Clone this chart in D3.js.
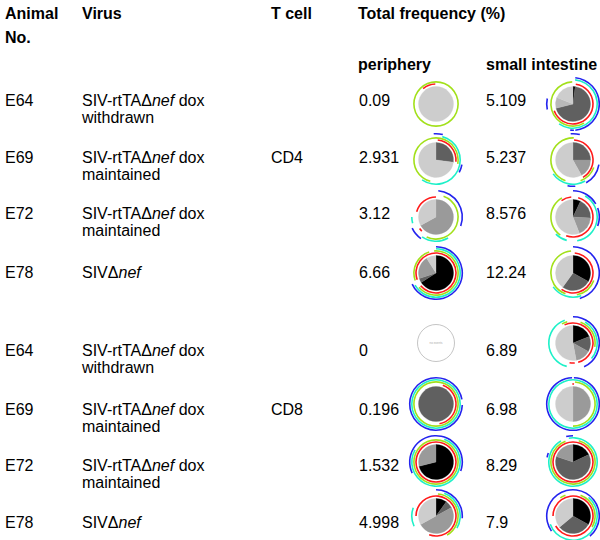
<!DOCTYPE html>
<html><head><meta charset="utf-8">
<script src="https://cdn.jsdelivr.net/npm/d3@7"></script>
<style>
body{margin:0;background:#fff}
svg{display:block}
text{font-family:"Liberation Sans",Arial,Helvetica,sans-serif;fill:#000}
</style>
</head><body><svg id="c" width="600" height="540"></svg>
<script>
// ---------- data ----------
const headers = ["Animal", "No.", "Virus", "T cell", "Total frequency (%)", "periphery", "small intestine"];
const animals = ["E64", "E69", "E72", "E78", "E64", "E69", "E72", "E78"];
const virusLine1 = ["SIV-rtTAΔ_nef_ dox", "SIV-rtTAΔ_nef_ dox", "SIV-rtTAΔ_nef_ dox", "SIVΔ_nef_",
                    "SIV-rtTAΔ_nef_ dox", "SIV-rtTAΔ_nef_ dox", "SIV-rtTAΔ_nef_ dox", "SIVΔ_nef_"];
const virusLine2 = ["withdrawn", "maintained", "maintained", "", "withdrawn", "maintained", "maintained", ""];
const tCells = ["CD4", "CD8"];
const peripheryFreq = ["0.09", "2.931", "3.12", "6.66", "0", "0.196", "1.532", "4.998"];
const intestineFreq = ["5.109", "5.237", "8.576", "12.24", "6.89", "6.98", "8.29", "7.9"];

// pie slices: [shade, percent] clockwise from 12 o'clock
const peripherySlices = [
  [["l", 100]],
  [["d", 27], ["l", 73]],
  [["m", 67], ["l", 33]],
  [["k", 66], ["d", 4], ["m", 21], ["l", 9]],
  [],
  [["d", 100]],
  [["k", 71], ["m", 29]],
  [["k", 10], ["d", 7], ["m", 50], ["l", 33]]
];
const intestineSlices = [
  [["k", 2], ["d", 69], ["l2", 10], ["l", 19]],
  [["d", 25], ["m", 17], ["l", 58]],
  [["k", 7], ["d", 19], ["m", 18], ["l", 56]],
  [["k", 33], ["d", 27], ["l", 40]],
  [["k", 19], ["d", 14], ["m", 14], ["l", 53]],
  [["m", 50], ["l", 50]],
  [["k", 18], ["d", 62], ["m", 20]],
  [["k", 33], ["d", 31], ["l", 36]]
];
// arcs: [ring (0 red,1 green,2 cyan,3 blue), startDeg, endDeg]
const peripheryArcs = [
  [[1, 0, 360], [0, 320, 358]],
  [[0, 5, 95], [1, 195, 460], [2, 15, 215], [3, 355, 375], [3, 100, 118]],
  [[0, 285, 360], [0, 225, 235], [1, 20, 205], [2, 150, 215], [2, 255, 270], [3, 5, 110], [3, 215, 245]],
  [[0, 250, 590], [1, 355, 590], [1, 250, 342], [2, 0, 240], [3, 0, 245]],
  [],
  [[0, 20, 170], [1, 0, 360], [2, 0, 360], [3, 0, 80], [3, 92, 360]],
  [[0, 0, 360], [1, 0, 360], [2, 20, 300], [3, 245, 470]],
  [[0, 270, 560], [1, 5, 150], [2, 20, 120], [2, 245, 290], [3, 0, 95]]
];
const intestineArcs = [
  [[0, 8, 250], [1, 150, 358], [2, 5, 215], [3, 5, 175], [3, 258, 282], [3, 178, 186]],
  [[0, 3, 150], [1, 200, 362], [1, 110, 160], [2, 150, 235], [3, 355, 375], [3, 100, 150], [3, 175, 192]],
  [[0, 15, 200], [0, 325, 355], [1, 215, 330], [2, 30, 170], [2, 195, 225], [3, 0, 60], [3, 70, 110]],
  [[0, 5, 215], [1, 200, 355], [1, 110, 170], [2, 160, 235], [3, 0, 165]],
  [[0, 335, 525], [0, 175, 190], [1, 330, 345], [1, 20, 100], [2, 195, 340], [2, 30, 130], [3, 0, 155]],
  [[0, 358, 363], [1, 5, 180], [2, 0, 360], [3, 2, 358]],
  [[0, 0, 360], [1, 15, 340], [2, 350, 690], [3, 280, 290], [3, 345, 360]],
  [[0, 270, 600], [1, 325, 340], [1, 20, 120], [2, 40, 250], [3, 235, 500]]
];

// ---------- styles / layout ----------
const shade = {k: "#000000", d: "#606060", m: "#9a9a9a", l2: "#b9b9b9", l: "#cdcdcd"};
const ringColor = ["#ff1a1a", "#a2e01a", "#1df0c8", "#2323ee"];
const textY = [100, 157, 213, 272, 350, 409, 465, 522];
const pieY  = [104, 160, 217, 273, 343, 404, 462, 516];
const xPeriPie = 436, xIntPie = 573;
const pieR = 17.5, ringR0 = 20, ringStep = 2.1, ringW = 1.6;
const lineGap = 17.5;

const svg = d3.select("#c");
const FS = 16;

// headers
const hdr = svg.append("g").attr("font-weight", "bold").attr("font-size", FS);
hdr.append("text").attr("x", 5).attr("y", 13).attr("dy", "0.35em").text(headers[0]);
hdr.append("text").attr("x", 5).attr("y", 37).attr("dy", "0.35em").text(headers[1]);
hdr.append("text").attr("x", 82).attr("y", 13).attr("dy", "0.35em").text(headers[2]);
hdr.append("text").attr("x", 271).attr("y", 13).attr("dy", "0.35em").text(headers[3]);
hdr.append("text").attr("x", 358).attr("y", 13).attr("dy", "0.35em").text(headers[4]);
hdr.append("text").attr("x", 358).attr("y", 64).attr("dy", "0.35em").text(headers[5]);
hdr.append("text").attr("x", 486).attr("y", 64).attr("dy", "0.35em").text(headers[6]);

const body = svg.append("g").attr("font-size", FS);
animals.forEach((a, i) => {
  body.append("text").attr("x", 5).attr("y", textY[i]).attr("dy", "0.35em").text(a);
  const t = body.append("text").attr("x", 82).attr("y", textY[i]).attr("dy", "0.35em");
  virusLine1[i].split("_").forEach((part, j) => {
    if (part) t.append("tspan").attr("font-style", j % 2 ? "italic" : "normal").text(part);
  });
  if (virusLine2[i]) body.append("text").attr("x", 82).attr("y", textY[i] + lineGap).attr("dy", "0.35em").text(virusLine2[i]);
  body.append("text").attr("x", 359).attr("y", textY[i]).attr("dy", "0.35em").text(peripheryFreq[i]);
  body.append("text").attr("x", 486).attr("y", textY[i]).attr("dy", "0.35em").text(intestineFreq[i]);
});
body.append("text").attr("x", 271).attr("y", textY[1]).attr("dy", "0.35em").text(tCells[0]);
body.append("text").attr("x", 271).attr("y", textY[5]).attr("dy", "0.35em").text(tCells[1]);

// pies
const pieGen = d3.pie().sort(null).value(d => d[1]);
const sliceArc = d3.arc().innerRadius(0).outerRadius(pieR);
const toRad = d => d * Math.PI / 180;

function drawPie(cx, cy, slices, arcs) {
  const g = svg.append("g").attr("transform", `translate(${cx},${cy})`);
  if (!slices.length) {
    g.append("circle").attr("r", 18.5).attr("fill", "none").attr("stroke", "#b5b5b5").attr("stroke-width", 0.8);
    g.append("text").attr("text-anchor", "middle").attr("dy", "0.35em").attr("font-size", 3)
      .style("fill", "#aaa").text("no events");
    return;
  }
  g.selectAll("path.s").data(pieGen(slices)).join("path").attr("class", "s")
    .attr("d", sliceArc).attr("fill", d => shade[d.data[0]])
    .attr("stroke", d => shade[d.data[0]]).attr("stroke-width", 0.3);
  g.selectAll("path.r").data(arcs).join("path").attr("class", "r")
    .attr("d", d => {
      const r = ringR0 + d[0] * ringStep;
      return d3.arc().innerRadius(r - ringW / 2).outerRadius(r + ringW / 2)
        .startAngle(toRad(d[1])).endAngle(toRad(d[2]))();
    })
    .attr("fill", d => ringColor[d[0]]);
}
animals.forEach((a, i) => {
  drawPie(xPeriPie, pieY[i], peripherySlices[i], peripheryArcs[i]);
  drawPie(xIntPie, pieY[i], intestineSlices[i], intestineArcs[i]);
});
</script></body></html>
